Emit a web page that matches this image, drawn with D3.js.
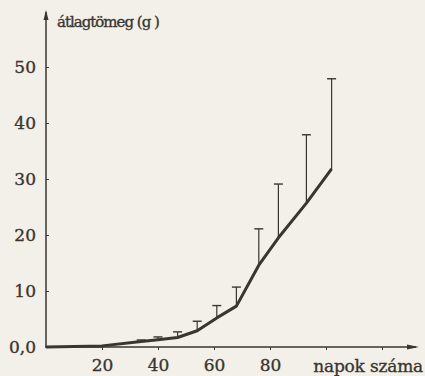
<!DOCTYPE html>
<html>
<style>
  body { margin: 0; background: #f2f0e8; }
  svg { display: block; }
</style>
<body>
<div id="chart"></div>
<script src="https://d3js.org/d3.v7.min.js"></script>
<script>
// days and mean mass (g)
var days = [0, 20, 34, 40, 47, 54, 61, 68, 76, 83, 93, 102];
var mass = [0, 0.2, 1.0, 1.3, 1.7, 2.9, 5.2, 7.3, 14.6, 19.5, 25.7, 31.8];
// upper end of the error bars (null = no bar)
var upper = [null, null, 1.25, 1.8, 2.7, 4.6, 7.4, 10.7, 21.1, 29.1, 37.9, 47.9];

var yTicks = [0, 10, 20, 30, 40, 50];
var xTicks = [20, 40, 60, 80, 100, 120];
var xLabels = ["20", "40", "60", "80", "", ""];

var width = 425, height = 376;
var ink = "#3a3530";
var serif = "DejaVu Serif";

var svg = d3.select("#chart").append("svg")
    .attr("width", width)
    .attr("height", height);

var x = d3.scaleLinear().domain([0, 100]).range([46, 326]);
var y = d3.scaleLinear().domain([0, 50]).range([347, 67]);

var data = days.map(function(d, i) { return {day: d, m: mass[i], up: upper[i]}; });

function styleText(sel, size) {
  sel.attr("font-family", serif)
     .style("font-family", serif)
     .style("font-size", size + "px")
     .attr("fill", ink)
     .attr("stroke", ink)
     .attr("stroke-width", 0.35);
}

// axes
var yAxis = svg.append("g")
    .attr("transform", "translate(" + x(0) + ",0)")
    .call(d3.axisLeft(y).tickValues(yTicks).tickSize(-3).tickPadding(10)
      .tickFormat(function(d) { return d === 0 ? "0,0" : d; }));
yAxis.select(".domain").remove();
yAxis.selectAll("line").attr("stroke", ink);
yAxis.selectAll("text").attr("dy", "0.35em").call(styleText, 17);

var xAxis = svg.append("g")
    .attr("transform", "translate(0," + y(0) + ")")
    .call(d3.axisBottom(x).tickValues(xTicks).tickSize(3).tickPadding(9)
      .tickFormat(function(d, i) { return xLabels[i]; }));
xAxis.select(".domain").remove();
xAxis.selectAll("line").attr("stroke", ink);
xAxis.selectAll("text").call(styleText, 17);

// axis lines with arrows
svg.append("line")
    .attr("x1", x(0)).attr("y1", y(0)).attr("x2", x(0)).attr("y2", 12)
    .attr("stroke", ink).attr("stroke-width", 1.5);
svg.append("path")
    .attr("d", "M" + x(0) + ",10 l-2.5,10 l5,0 z")
    .attr("fill", ink);
svg.append("line")
    .attr("x1", x(0) - 1).attr("y1", y(0)).attr("x2", 416).attr("y2", y(0))
    .attr("stroke", ink).attr("stroke-width", 1.5);
svg.append("path")
    .attr("d", "M419," + y(0) + " l-12,-2.5 l0,5 z")
    .attr("fill", ink);

// axis titles
svg.append("text")
    .attr("x", 57).attr("y", 27)
    .call(styleText, 15)
    .style("letter-spacing", "-1px")
    .text("átlagtömeg (g )");
svg.append("text")
    .attr("x", 423).attr("y", 372)
    .attr("text-anchor", "end")
    .call(styleText, 17)
    .style("letter-spacing", "-0.2px")
    .text("napok száma");

// error bars
var bars = svg.append("g").selectAll("g")
    .data(data.filter(function(d) { return d.up !== null; }))
    .enter().append("g");
bars.append("line")
    .attr("x1", function(d) { return x(d.day); })
    .attr("x2", function(d) { return x(d.day); })
    .attr("y1", function(d) { return y(d.m); })
    .attr("y2", function(d) { return y(d.up); })
    .attr("stroke", ink).attr("stroke-width", 1.2);
bars.append("line")
    .attr("x1", function(d) { return x(d.day) - 4.5; })
    .attr("x2", function(d) { return x(d.day) + 4.5; })
    .attr("y1", function(d) { return y(d.up); })
    .attr("y2", function(d) { return y(d.up); })
    .attr("stroke", ink).attr("stroke-width", 1.4);

// mean curve
var line = d3.line()
    .x(function(d) { return x(d.day); })
    .y(function(d) { return y(d.m); })
    .curve(d3.curveLinear);
svg.append("path")
    .datum(data)
    .attr("d", line)
    .attr("fill", "none")
    .attr("stroke", ink)
    .attr("stroke-width", 3)
    .attr("stroke-linejoin", "round");
</script>
</body>
</html>
